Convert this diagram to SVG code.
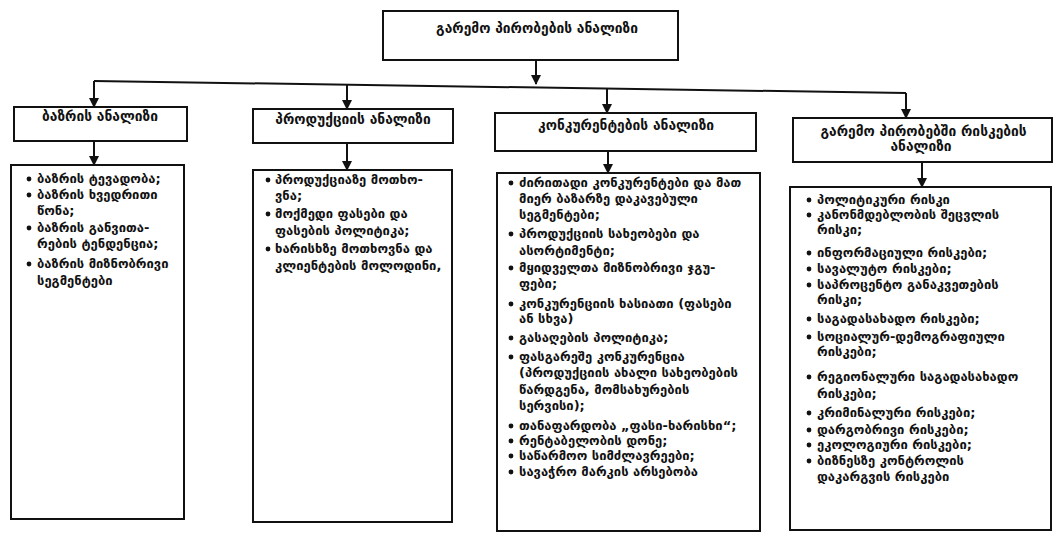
<svg xmlns="http://www.w3.org/2000/svg" width="1056" height="533" viewBox="0 0 1056 533">
  <style>
    .box { fill: #fff; stroke: #111; stroke-width: 2; }
    .hd { font-family: "DejaVu Sans", "Noto Sans", sans-serif; font-size: 13.8px; font-weight: bold; fill: #111; text-anchor: middle; }
    .tx { font-family: "DejaVu Sans", "Noto Sans", sans-serif; font-size: 13px; font-weight: bold; fill: #111; }
    .bl { fill: #111; }
    .cn { fill: none; stroke: #111; stroke-width: 2; }
  </style>
  <defs>
    <marker id="arr" viewBox="0 0 10 10" refX="9" refY="5" markerWidth="5" markerHeight="5" orient="auto" markerUnits="strokeWidth">
      <path d="M0,0 L10,5 L0,10 z" fill="#111"/>
    </marker>
  </defs>
  <rect width="1056" height="533" fill="#fff"/>

  <!-- connectors -->
  <g id="connectors">
    <line class="cn" x1="536" y1="60" x2="536" y2="84" marker-end="url(#arr)"/>
    <line class="cn" x1="94" y1="81" x2="906" y2="93"/>
    <line class="cn" x1="94" y1="81" x2="94" y2="107" marker-end="url(#arr)"/>
    <line class="cn" x1="347" y1="85" x2="347" y2="109" marker-end="url(#arr)"/>
    <line class="cn" x1="607" y1="88" x2="607" y2="113" marker-end="url(#arr)"/>
    <line class="cn" x1="906" y1="93" x2="906" y2="118" marker-end="url(#arr)"/>
    <line class="cn" x1="94" y1="141" x2="94" y2="165" marker-end="url(#arr)"/>
    <line class="cn" x1="347" y1="143" x2="347" y2="170" marker-end="url(#arr)"/>
    <line class="cn" x1="608" y1="151" x2="608" y2="173" marker-end="url(#arr)"/>
    <line class="cn" x1="922" y1="162" x2="922" y2="187" marker-end="url(#arr)"/>
  </g>

  <!-- root -->
  <g id="root">
    <rect class="box" x="383" y="11" width="295" height="49"/>
    <text class="hd" x="537" y="33">გარემო პირობების ანალიზი</text>
  </g>

  <!-- market analysis -->
  <g id="market-head">
    <rect class="box" x="14" y="107" width="173" height="34"/>
    <text class="hd" x="100" y="121">ბაზრის ანალიზი</text>
  </g>
  <g id="market-list">
    <rect class="box" x="11" y="165" width="173" height="354"/>
    <circle class="bl" cx="29" cy="179" r="2.4"/>
    <circle class="bl" cx="29" cy="195" r="2.4"/>
    <circle class="bl" cx="29" cy="228" r="2.4"/>
    <circle class="bl" cx="29" cy="264" r="2.4"/>
    <text class="tx">
      <tspan x="37" y="183">ბაზრის ტევადობა;</tspan>
      <tspan x="37" y="199">ბაზრის ხვედრითი</tspan>
      <tspan x="37" y="215">წონა;</tspan>
      <tspan x="37" y="232">ბაზრის განვითა-</tspan>
      <tspan x="37" y="248">რების ტენდენცია;</tspan>
      <tspan x="37" y="268">ბაზრის მიზნობრივი</tspan>
      <tspan x="37" y="285">სეგმენტები</tspan>
    </text>
  </g>

  <!-- product analysis -->
  <g id="product-head">
    <rect class="box" x="253" y="109" width="200" height="34"/>
    <text class="hd" x="353" y="124">პროდუქციის ანალიზი</text>
  </g>
  <g id="product-list">
    <rect class="box" x="253" y="170" width="199" height="352"/>
    <circle class="bl" cx="268" cy="180" r="2.4"/>
    <circle class="bl" cx="268" cy="214" r="2.4"/>
    <circle class="bl" cx="268" cy="249" r="2.4"/>
    <text class="tx">
      <tspan x="275" y="184">პროდუქციაზე მოთხო-</tspan>
      <tspan x="275" y="200">ვნა;</tspan>
      <tspan x="275" y="218">მოქმედი ფასები და</tspan>
      <tspan x="275" y="235">ფასების პოლიტიკა;</tspan>
      <tspan x="275" y="253">ხარისხზე მოთხოვნა და</tspan>
      <tspan x="275" y="270">კლიენტების მოლოდინი,</tspan>
    </text>
  </g>

  <!-- competitor analysis -->
  <g id="competitor-head">
    <rect class="box" x="495" y="113" width="261" height="38"/>
    <text class="hd" x="626" y="130">კონკურენტების ანალიზი</text>
  </g>
  <g id="competitor-list">
    <rect class="box" x="497" y="173" width="263" height="358"/>
    <circle class="bl" cx="511" cy="183" r="2.4"/>
    <circle class="bl" cx="511" cy="234" r="2.4"/>
    <circle class="bl" cx="511" cy="268" r="2.4"/>
    <circle class="bl" cx="511" cy="304" r="2.4"/>
    <circle class="bl" cx="511" cy="338" r="2.4"/>
    <circle class="bl" cx="511" cy="357" r="2.4"/>
    <circle class="bl" cx="511" cy="426" r="2.4"/>
    <circle class="bl" cx="511" cy="441" r="2.4"/>
    <circle class="bl" cx="511" cy="456" r="2.4"/>
    <circle class="bl" cx="511" cy="472" r="2.4"/>
    <text class="tx">
      <tspan x="519" y="187">ძირითადი კონკურენტები და მათ</tspan>
      <tspan x="519" y="203">მიერ ბაზარზე დაკავებული</tspan>
      <tspan x="519" y="219">სეგმენტები;</tspan>
      <tspan x="519" y="238">პროდუქციის სახეობები და</tspan>
      <tspan x="519" y="255">ასორტიმენტი;</tspan>
      <tspan x="519" y="272">მყიდველთა მიზნობრივი ჯგუ-</tspan>
      <tspan x="519" y="288">ფები;</tspan>
      <tspan x="519" y="308">კონკურენციის ხასიათი (ფასები</tspan>
      <tspan x="519" y="323">ან სხვა)</tspan>
      <tspan x="519" y="342">გასაღების პოლიტიკა;</tspan>
      <tspan x="519" y="361">ფასგარეშე კონკურენცია</tspan>
      <tspan x="519" y="377">(პროდუქციის ახალი სახეობების</tspan>
      <tspan x="519" y="394">წარდგენა, მომსახურების</tspan>
      <tspan x="519" y="410">სერვისი);</tspan>
      <tspan x="519" y="430">თანაფარდობა „ფასი-ხარისხი“;</tspan>
      <tspan x="519" y="445">რენტაბელობის დონე;</tspan>
      <tspan x="519" y="460">საწარმოო სიმძლავრეები;</tspan>
      <tspan x="519" y="476">სავაჭრო მარკის არსებობა</tspan>
    </text>
  </g>

  <!-- risk analysis -->
  <g id="risk-head">
    <rect class="box" x="793" y="118" width="259" height="44"/>
    <text class="hd">
      <tspan x="926" y="136">გარემო პირობებში რისკების</tspan>
      <tspan x="921" y="151">ანალიზი</tspan>
    </text>
  </g>
  <g id="risk-list">
    <rect class="box" x="790" y="187" width="261" height="343"/>
    <circle class="bl" cx="809" cy="200" r="2.4"/>
    <circle class="bl" cx="809" cy="215" r="2.4"/>
    <circle class="bl" cx="809" cy="253" r="2.4"/>
    <circle class="bl" cx="809" cy="269" r="2.4"/>
    <circle class="bl" cx="809" cy="285" r="2.4"/>
    <circle class="bl" cx="809" cy="319" r="2.4"/>
    <circle class="bl" cx="809" cy="337" r="2.4"/>
    <circle class="bl" cx="809" cy="377" r="2.4"/>
    <circle class="bl" cx="809" cy="413" r="2.4"/>
    <circle class="bl" cx="809" cy="430" r="2.4"/>
    <circle class="bl" cx="809" cy="445" r="2.4"/>
    <circle class="bl" cx="809" cy="461" r="2.4"/>
    <text class="tx">
      <tspan x="817" y="204">პოლიტიკური რისკი</tspan>
      <tspan x="817" y="219">კანონმდებლობის შეცვლის</tspan>
      <tspan x="817" y="234">რისკი;</tspan>
      <tspan x="817" y="257">ინფორმაციული რისკები;</tspan>
      <tspan x="817" y="273">სავალუტო რისკები;</tspan>
      <tspan x="817" y="289">საპროცენტო განაკვეთების</tspan>
      <tspan x="817" y="304">რისკი;</tspan>
      <tspan x="817" y="323">საგადასახადო რისკები;</tspan>
      <tspan x="817" y="341">სოციალურ-დემოგრაფიული</tspan>
      <tspan x="817" y="356">რისკები;</tspan>
      <tspan x="817" y="381">რეგიონალური  საგადასახადო</tspan>
      <tspan x="817" y="398">რისკები;</tspan>
      <tspan x="817" y="417">კრიმინალური რისკები;</tspan>
      <tspan x="817" y="434">დარგობრივი რისკები;</tspan>
      <tspan x="817" y="449">ეკოლოგიური რისკები;</tspan>
      <tspan x="817" y="465">ბიზნესზე კონტროლის</tspan>
      <tspan x="817" y="481">დაკარგვის რისკები</tspan>
    </text>
  </g>
</svg>
